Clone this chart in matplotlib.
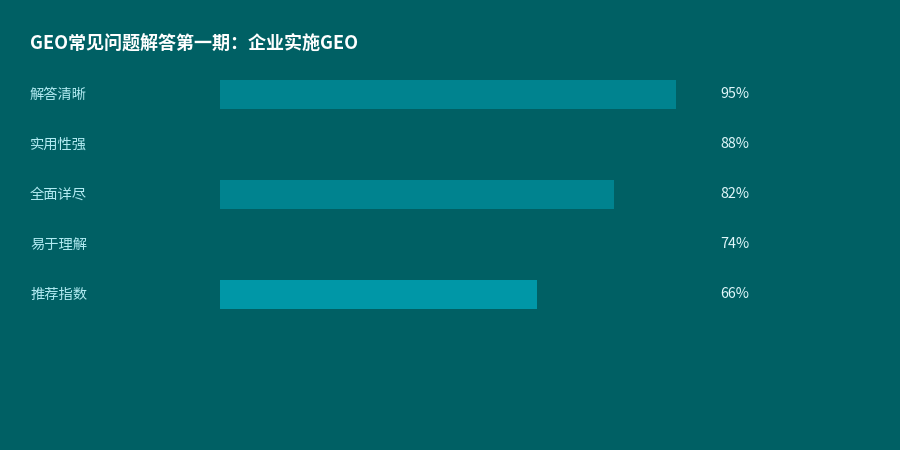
import matplotlib.pyplot as plt
from matplotlib.transforms import blended_transform_factory

plt.rcParams['font.family'] = ['Noto Sans CJK SC', 'DejaVu Sans']

categories = ['解答清晰', '实用性强', '全面详尽', '易于理解', '推荐指数']
values = [95, 88, 82, 74, 66]
bar_colors = ['#00838F', '#006064', '#00838F', '#006064', '#0097A7']
title = 'GEO常见问题解答第一期：企业实施GEO'

BG = '#006064'

fig = plt.figure(figsize=(9, 4.5), dpi=100)
fig.patch.set_facecolor(BG)

# axes: 0% at x=220px, 100% at x=700px; rows 50px apart starting at y=94.5px
ax = fig.add_axes([220 / 900, (450 - 319.5) / 450, 480 / 900, 250 / 450])
ax.set_facecolor(BG)
ax.barh(range(len(values)), values, height=0.58, color=bar_colors)
ax.set_xlim(0, 100)
ax.set_ylim(len(values) - 0.5, -0.5)
ax.axis('off')

trans = blended_transform_factory(fig.transFigure, ax.transData)
for i, (cat, v) in enumerate(zip(categories, values)):
    ax.text(30 / 900, i, cat, transform=trans, ha='left', va='center',
            fontsize=10.3, color='#B2EBF2')
    ax.text(720 / 900, i, f'{v}%', transform=trans, ha='left', va='center',
            fontsize=10.3, color='#E0F7FA')

fig.text(30 / 900, 1 - 44 / 450, title, ha='left', va='center',
         fontsize=13, fontweight='bold', color='white')

fig.savefig('out.png', dpi=100, facecolor=BG)
